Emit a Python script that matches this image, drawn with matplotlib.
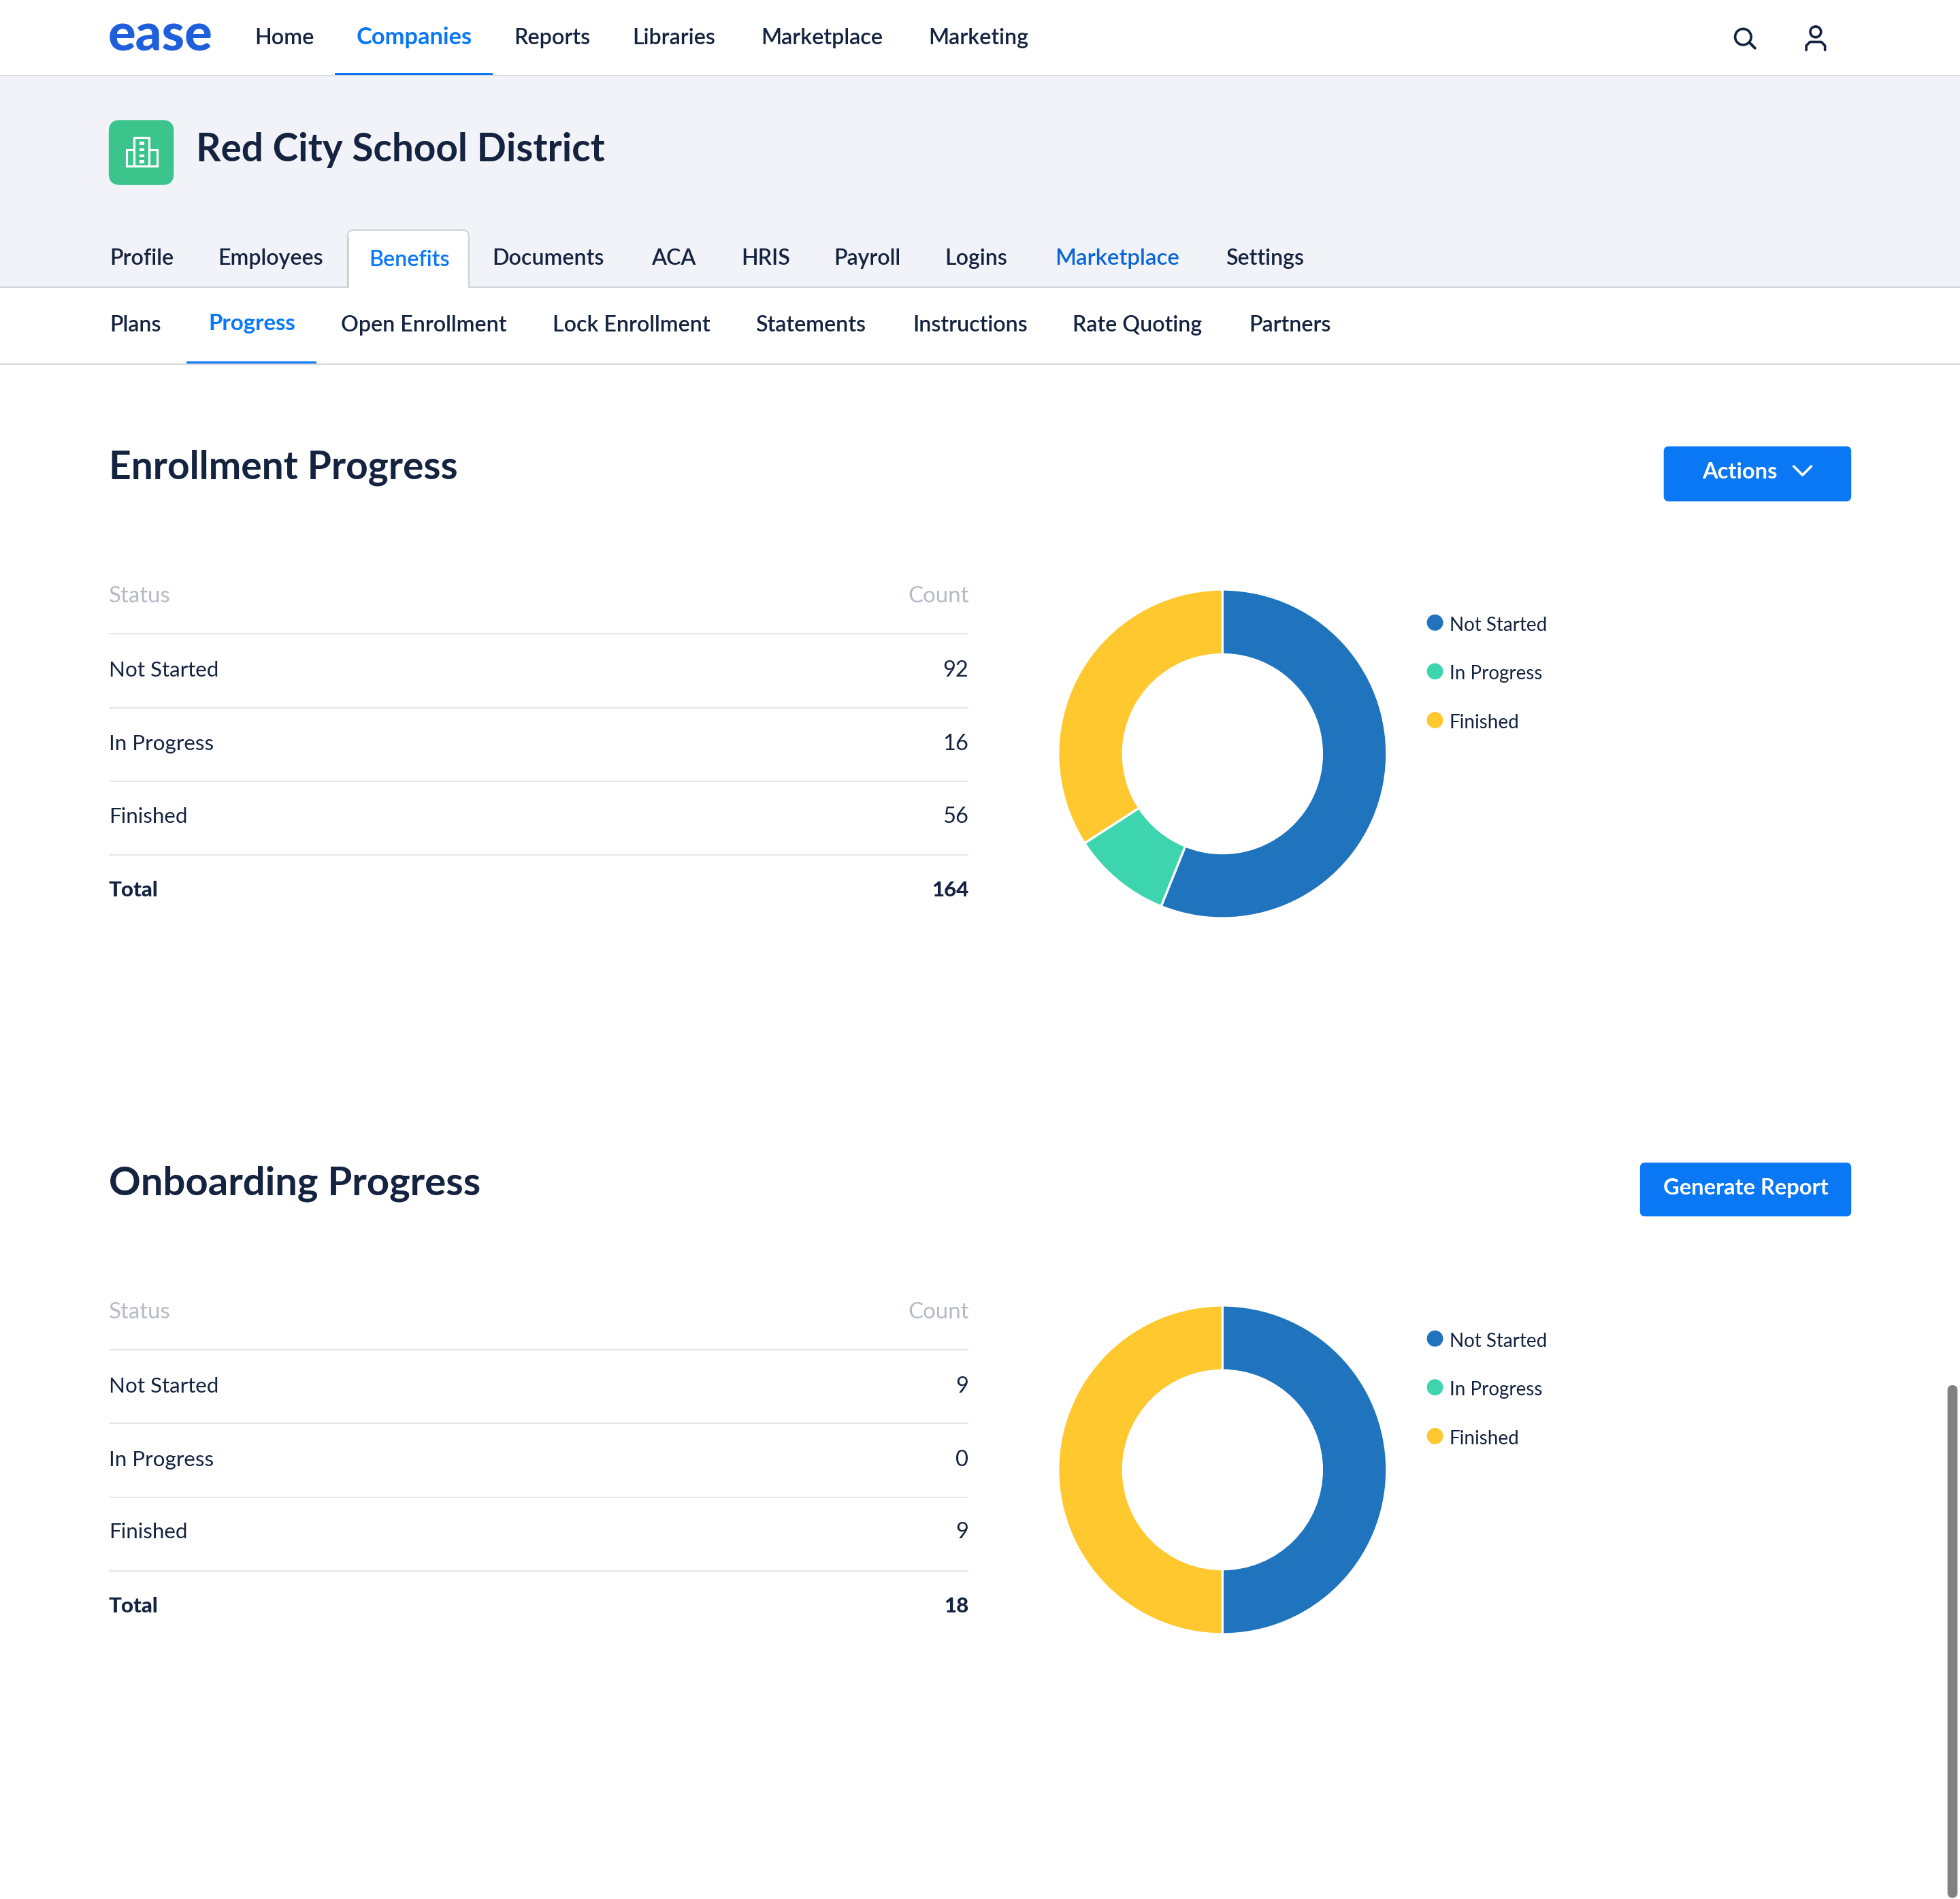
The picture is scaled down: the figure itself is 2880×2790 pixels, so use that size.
import matplotlib
matplotlib.use('Agg')
from matplotlib import pyplot as plt
from matplotlib.patches import Rectangle, FancyBboxPatch, Circle

plt.rcParams['font.family'] = ['Lato', 'DejaVu Sans']

statuses = ['Not Started', 'In Progress', 'Finished']
enrollment_counts = [92, 16, 56]
onboarding_counts = [9, 0, 9]
slice_colors = ['#2074bd', '#3dd5ae', '#ffc82e']

top_nav = ['Home', 'Companies', 'Reports', 'Libraries', 'Marketplace', 'Marketing']
top_nav_x = [203.5, 285, 411, 506, 609, 743]
main_tabs = ['Profile', 'Employees', 'Benefits', 'Documents', 'ACA', 'HRIS', 'Payroll', 'Logins', 'Marketplace', 'Settings']
main_tabs_x = [88, 174.5, 295, 394, 521, 593, 667, 756, 844, 980.5]
sub_tabs = ['Plans', 'Progress', 'Open Enrollment', 'Lock Enrollment', 'Statements', 'Instructions', 'Rate Quoting', 'Partners']
sub_tabs_x = [88, 167, 273, 442, 604.5, 730, 858, 999]

DARK = '#14233f'
BLUE = '#0a78f5'
LINE = '#d3d6dc'
S = 2880 / 1568
H = 2790 / S

fig = plt.figure(figsize=(14.4, 13.95), dpi=200, facecolor='white')
ax = fig.add_axes([0, 0, 1, 1])
ax.set_xlim(0, 1568)
ax.set_ylim(H, 0)
ax.axis('off')


def pt(px):
    # display pixels to points
    return px * S * 72 / 200


def txt(x, y, s, size, color=DARK, weight='semibold', ha='left'):
    ax.text(x, y, s, fontsize=pt(size), color=color, fontweight=weight, ha=ha, va='baseline', zorder=5)


def hline(y, x0=0, x1=1568, color=LINE, lw=1.0):
    ax.plot([x0, x1], [y, y], color=color, lw=pt(lw), solid_capstyle='butt')


def rbox(x0, y0, x1, y1, r, color, ec='none', lw=0, z=1):
    ax.add_patch(FancyBboxPatch((x0 + r, y0 + r), x1 - x0 - 2 * r, y1 - y0 - 2 * r,
                                boxstyle=f'round,pad={r},rounding_size={r}',
                                fc=color, ec=ec, lw=lw, zorder=z))


# header band
ax.add_patch(Rectangle((0, 60), 1568, 169, fc='#f1f3f8', ec='none'))
hline(60.5)

# top bar
txt(86.5, 40.5, 'ease', 41.3, color='#1f5fdc', weight='black')
for label, x in zip(top_nav, top_nav_x):
    on = label == 'Companies'
    txt(x, 35.5, label, 18.7 if on else 17.6, color=BLUE if on else DARK, weight='bold' if on else 'semibold')
ax.add_patch(Rectangle((268, 58), 126, 2, fc=BLUE, ec='none', zorder=3))

# search and user icons
ax.add_patch(Circle((1394.5, 29.5), 6.4, fc='none', ec=DARK, lw=pt(2)))
ax.plot([1399.5, 1404], [34, 38.5], color=DARK, lw=pt(2.2), solid_capstyle='round')
ax.add_patch(Circle((1452.5, 25.5), 4.3, fc='none', ec=DARK, lw=pt(2)))
ax.plot([1445, 1445, 1448, 1457, 1460, 1460], [40, 36.5, 33.5, 33.5, 36.5, 40],
        color=DARK, lw=pt(2), solid_capstyle='round', solid_joinstyle='round')

# company icon and name
rbox(87, 96, 139, 148, 9, '#3cc48d')
ax.add_patch(Rectangle((101, 120), 25, 13, fc='none', ec='white', lw=pt(1.7), zorder=2))
ax.add_patch(Rectangle((107.5, 110), 12, 23, fc='#3cc48d', ec='white', lw=pt(1.7), zorder=3))
for yy in (113.5, 118.5, 123.5, 128):
    ax.add_patch(Rectangle((111.5, yy), 3.8, 2.4, fc='white', ec='none', zorder=4))
txt(157, 129, 'Red City School District', 30.9, weight='bold')

# main tabs
rbox(278, 184, 375, 240, 5, 'white', ec='#cdd0d8', lw=pt(1), z=2)
ax.add_patch(Rectangle((0, 230), 1568, 61, fc='white', ec='none', zorder=2))
ax.plot([278.5, 278.5], [190, 230], color='#cdd0d8', lw=pt(1), zorder=3)
ax.plot([375, 375], [190, 230], color='#cdd0d8', lw=pt(1), zorder=3)
ax.plot([0, 278], [229.5, 229.5], color='#cdd0d8', lw=pt(1), zorder=3)
ax.plot([375, 1568], [229.5, 229.5], color='#cdd0d8', lw=pt(1), zorder=3)
ax.plot([0, 1568], [291.5, 291.5], color=LINE, lw=pt(1), zorder=3)
for label, x in zip(main_tabs, main_tabs_x):
    color = BLUE if label == 'Benefits' else ('#0a66d8' if label == 'Marketplace' else DARK)
    size = 18 if label == 'Marketplace' else 17.5
    txt(x, 213 if label == 'Benefits' else 212, label, size, color=color)

# sub tabs
for label, x in zip(sub_tabs, sub_tabs_x):
    on = label == 'Progress'
    txt(x, 264 if on else 265, label, 18 if on else 17.5, color=BLUE if on else DARK, weight='bold' if on else 'semibold')
ax.add_patch(Rectangle((149, 289), 104, 2, fc=BLUE, ec='none', zorder=4))


def section(dy, title, counts, total, title_size):
    txt(87, 383 + dy, title, title_size, weight='bold')
    txt(87, 482 + dy, 'Status', 18, color='#b5bac4', weight='regular')
    txt(775, 482 + dy, 'Count', 18, color='#b5bac4', weight='regular', ha='right')
    hline(507 + dy, 87, 775, color='#e2e4e8')
    row_y = [541, 600, 658]
    for i, (name, count) in enumerate(zip(statuses, counts)):
        txt(87, row_y[i] + dy, name, 17.1, weight='regular')
        txt(775, row_y[i] + dy, str(count), 17.8, weight='regular', ha='right')
        hline(566 + 59 * i + dy, 87, 775, color='#e2e4e8')
    txt(87, 717 + dy, 'Total', 17, weight='black')
    txt(775, 717 + dy, str(total), 17, weight='black', ha='right')

    # donut
    cx, cy, r = 978, 603 + dy, 131.5
    pax = fig.add_axes([(cx - r) / 1568, 1 - (cy + r) / H, 2 * r / 1568, 2 * r / H])
    pax.pie(counts, colors=slice_colors, startangle=90, counterclock=False,
            wedgeprops=dict(width=52 / 131.5, edgecolor='white', linewidth=1.2))
    pax.set_xlim(-1, 1)
    pax.set_ylim(-1, 1)

    # legend
    for i, name in enumerate(statuses):
        ax.add_patch(Circle((1148, 498 + 39 * i + dy), 6.5, fc=slice_colors[i], ec='none'))
        txt(1159.5, 504.5 + 39 * i + dy, name, 15.1, weight='regular')


section(0, 'Enrollment Progress', enrollment_counts, sum(enrollment_counts), 31)
section(572.7, 'Onboarding Progress', onboarding_counts, sum(onboarding_counts), 31.6)

# buttons
rbox(1331, 357, 1481, 401, 4, BLUE)
txt(1362, 382.5, 'Actions', 17.8, color='white', weight='bold')
ax.plot([1435, 1442, 1449], [373, 380, 373], color='white', lw=pt(2), solid_capstyle='round', solid_joinstyle='round', zorder=3)
rbox(1312, 930, 1481, 973, 4, BLUE)
txt(1396.5, 955.5, 'Generate Report', 17.8, color='white', weight='bold', ha='center')

# scrollbar
rbox(1558, 1108, 1566, 1518, 4, '#808080')

fig.savefig('out.png', dpi=200)
